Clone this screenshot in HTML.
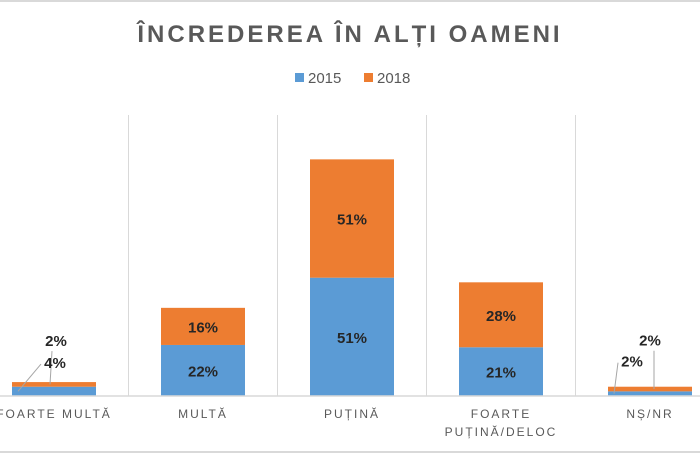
<!DOCTYPE html>
<html><head><meta charset="utf-8"><style>
html,body{margin:0;padding:0;background:#fff;}
body{width:700px;height:453px;overflow:hidden;font-family:"Liberation Sans",sans-serif;}
</style></head><body>
<svg id="chart" width="700" height="453" viewBox="0 0 700 453" xmlns="http://www.w3.org/2000/svg">
<line x1="0" y1="1" x2="700" y2="1" stroke="#d9d9d9" stroke-width="2"/>
<line x1="0" y1="452" x2="700" y2="452" stroke="#d9d9d9" stroke-width="2"/>
<text x="350" y="42" text-anchor="middle" font-size="24" font-weight="bold" fill="#595959" letter-spacing="3">ÎNCREDEREA ÎN ALȚI OAMENI</text>
<g>
<rect x="295" y="73" width="9" height="9" fill="#5b9bd5"/>
<text x="308" y="83" font-size="15" fill="#595959">2015</text>
<rect x="364" y="73" width="9" height="9" fill="#ed7d31"/>
<text x="377" y="83" font-size="15" fill="#595959">2018</text>
</g>
<g id="grid"></g>
<g id="bars"></g>
<g id="labels"></g>
<line x1="0" y1="396" x2="700" y2="396" stroke="#d9d9d9" stroke-width="1.5"/>
<g id="cats"></g>
</svg>
<script>
const categories = ["FOARTE MULTĂ", "MULTĂ", "PUȚINĂ", "FOARTE PUȚINĂ/DELOC", "NȘ/NR"];
const catLines = [["FOARTE MULTĂ"], ["MULTĂ"], ["PUȚINĂ"], ["FOARTE", "PUȚINĂ/DELOC"], ["NȘ/NR"]];
const values2015 = [4, 22, 51, 21, 2];
const values2018 = [2, 16, 51, 28, 2];
const labels2015 = ["4%", "22%", "51%", "21%", "2%"];
const labels2018 = ["2%", "16%", "51%", "28%", "2%"];

const NS = "http://www.w3.org/2000/svg";
const base = 396, pxPer = 2.32, step = 149, x0 = 54, bw = 84;
function xc(i){ return x0 + i*step; }
function yv(v){ return base - v*pxPer; }
function mk(tag, attrs, parent){ const e=document.createElementNS(NS,tag); for(const k in attrs) e.setAttribute(k,attrs[k]); parent.appendChild(e); return e; }
const grid=document.getElementById('grid'), bars=document.getElementById('bars'), labels=document.getElementById('labels'), cats=document.getElementById('cats');
for(let i=0;i<categories.length-1;i++){
  const g=mk('line',{x1:xc(i)+step/2,x2:xc(i)+step/2,y1:115,y2:396,stroke:'#d9d9d9','stroke-width':1},grid);
  
  
}
categories.forEach((c,i)=>{
  const a=values2015[i], b=values2018[i];
  const r1=mk('rect',{x:xc(i)-bw/2,y:yv(a),width:bw,height:base-yv(a),fill:'#5b9bd5'},bars);
  
  
  const r2=mk('rect',{x:xc(i)-bw/2,y:yv(a+b),width:bw,height:yv(a)-yv(a+b),fill:'#ed7d31'},bars);
  
  
  const small = (a+b) < 10;
  let y1, y2, x1, x2;
  if(small){
    x1 = xc(i) - (i===0?0:18); y1 = yv(a+b) - 20;
    x2 = xc(i) + (i===0?2:0); y2 = yv(a+b) - 41;
    if(i===0){ x1 = xc(i)+1; y1 = yv(a+b)-14; x2 = xc(i)+2; y2 = yv(a+b)-36; }
    mk('line',{x1:xc(i)-bw/2+6,y1:yv(a/2),x2:x1-14,y2:y1-4,stroke:'#a6a6a6','stroke-width':1},labels);
    mk('line',{x1:xc(i)+(i===0?-4:4),y1:yv(a+b/2),x2:x2+(i===0?-4:4),y2:y2+5,stroke:'#a6a6a6','stroke-width':1},labels);
  } else {
    y1 = (base + yv(a))/2 + 6; x1 = xc(i);
    y2 = (yv(a) + yv(a+b))/2 + 6; x2 = xc(i);
  }
  const t1=mk('text',{x:x1,y:y1,'text-anchor':'middle','font-size':15,'font-weight':'bold',fill:'#262626'},labels);
  t1.textContent=labels2015[i];
  
  
  const t2=mk('text',{x:x2,y:y2,'text-anchor':'middle','font-size':15,'font-weight':'bold',fill:'#262626'},labels);
  t2.textContent=labels2018[i];
  
  
  const t=mk('text',{x:xc(i),y:418,'text-anchor':'middle','font-size':12,fill:'#595959','letter-spacing':2},cats);
  
  
  catLines[i].forEach((ln,j)=>{ const s=mk('tspan',{x:xc(i),dy:j?18:0},t); s.textContent=ln; });
});
</script>
</body></html>
